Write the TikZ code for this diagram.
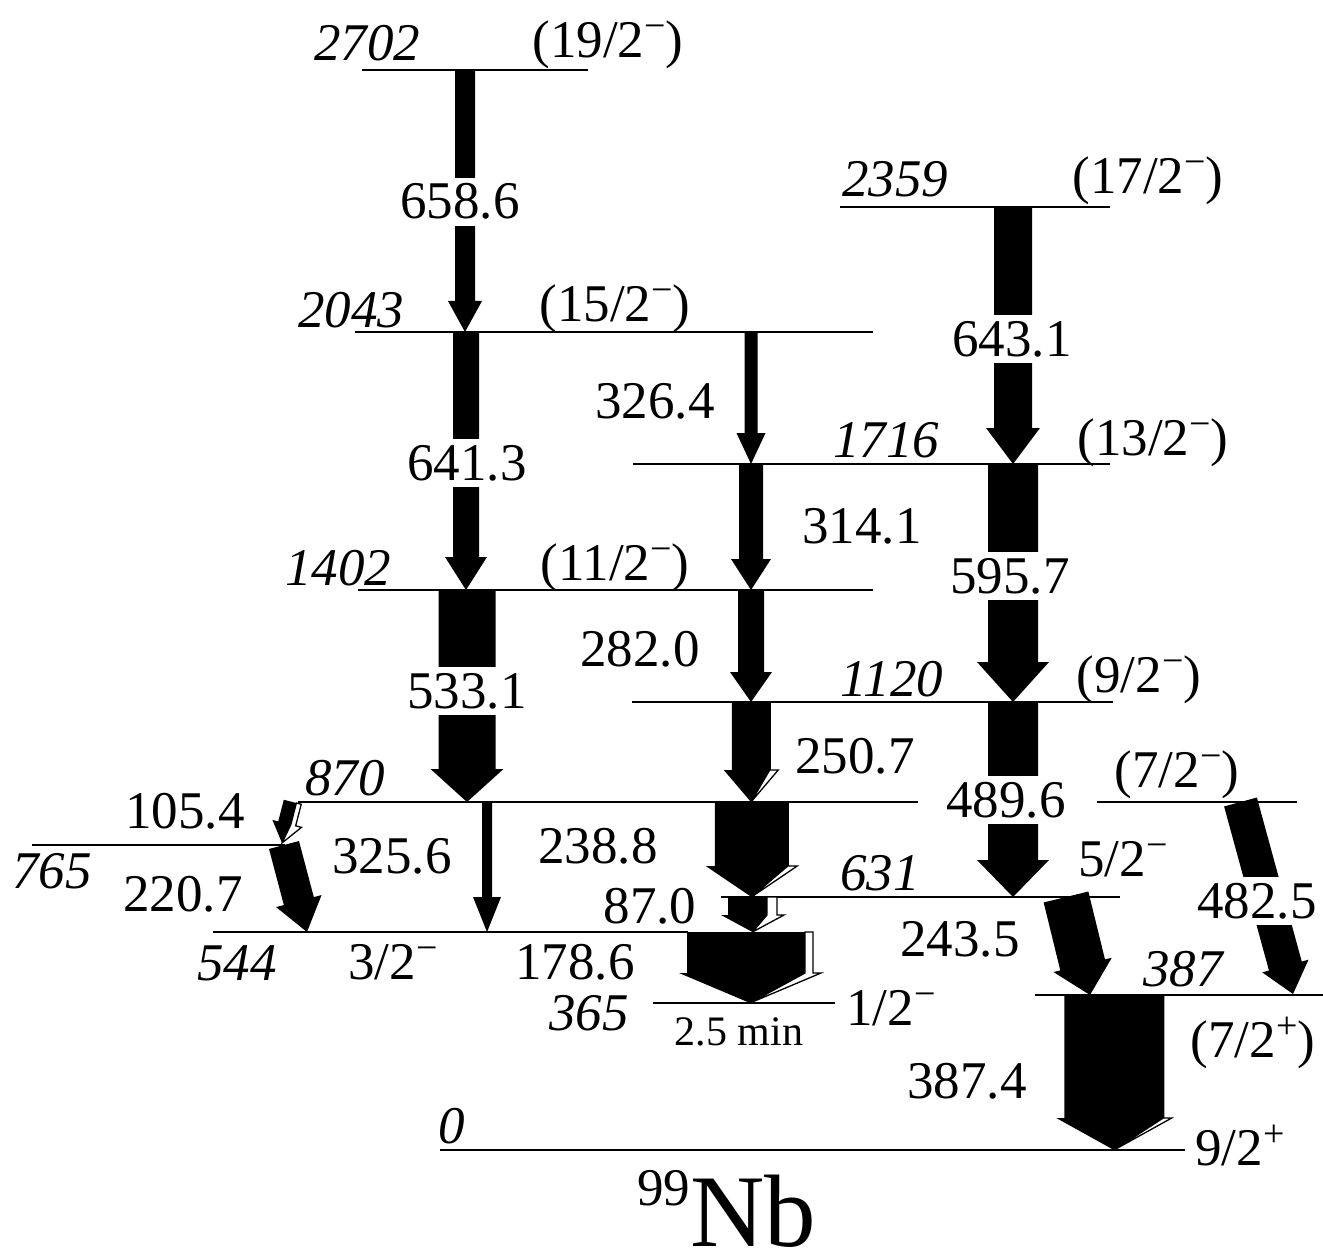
\documentclass[tikz,border=0pt]{standalone}
\usepackage{fontspec}
\setmainfont{Liberation Serif}
\usetikzlibrary{calc}
\newcommand\supx[1]{\raisebox{19pt}{\fontsize{38}{40}\selectfont #1}}
\newcommand\smi{\supx{\char"2212}}
\newcommand\spl{\supx{+}}
% gamma arrow: #1 top, #2 tip, #3 black width, #4 white width, #5 head overhang, #6 head length
\newcommand\gam[6]{%
 \coordinate (gA) at #1;
 \coordinate (gB) at #2;
 \coordinate (gH) at ($(gB)!#6pt!(gA)$);
 \pgfmathsetmacro\gamL{-(#3+#4)/2}%
 \pgfmathsetmacro\gamM{(#3-#4)/2}%
 \pgfmathsetmacro\gamR{(#3+#4)/2}%
 \pgfmathsetmacro\gamLe{\gamL-#5}%
 \pgfmathsetmacro\gamRe{\gamR+#5}%
 \ifdim #4pt>0pt
  \fill ($(gA)!\gamL pt!90:(gB)$) -- ($(gA)!\gamM pt!90:(gB)$) -- ($(gH)!\gamM pt!90:(gB)$) -- (gB) -- ($(gH)!\gamLe pt!90:(gB)$) -- ($(gH)!\gamL pt!90:(gB)$) -- cycle;
  \draw[fill=white,line width=1.3pt,line join=miter] ($(gA)!\gamM pt!90:(gB)$) -- ($(gA)!\gamR pt!90:(gB)$) -- ($(gH)!\gamR pt!90:(gB)$) -- ($(gH)!\gamRe pt!90:(gB)$) -- (gB) -- ($(gH)!\gamM pt!90:(gB)$) -- cycle;
 \else
  \fill ($(gA)!\gamL pt!90:(gB)$) -- ($(gA)!\gamR pt!90:(gB)$) -- ($(gH)!\gamR pt!90:(gB)$) -- ($(gH)!\gamRe pt!90:(gB)$) -- (gB) -- ($(gH)!\gamLe pt!90:(gB)$) -- ($(gH)!\gamL pt!90:(gB)$) -- cycle;
 \fi
}
\tikzset{
 lev/.style={line width=2pt},
 lab/.style={font=\fontsize{53}{60}\selectfont, anchor=base, inner sep=0pt},
 en/.style={lab, font=\fontsize{53}{60}\selectfont\itshape},
 cut/.style={lab, fill=white, inner xsep=3pt, inner ysep=6pt}
}
\begin{document}
\begin{tikzpicture}[x=1pt,y=-1pt]
\useasboundingbox (0,0) rectangle (1323,1257);
% levels
\draw[lev] (362,70) -- (588,70);
\draw[lev] (840,207) -- (1110,207);
\draw[lev] (355,332) -- (873,332);
\draw[lev] (633,464) -- (1110,464);
\draw[lev] (358,590) -- (873,590);
\draw[lev] (632,702) -- (1113,702);
\draw[lev] (298,802) -- (918,802);
\draw[lev] (1097,802) -- (1297,802);
\draw[lev] (32,845) -- (285,845);
\draw[lev] (721,897) -- (1120,897);
\draw[lev] (213,932) -- (688,932);
\draw[lev] (1035,995) -- (1323,995);
\draw[lev] (653,1003) -- (835,1003);
\draw[lev] (440,1150) -- (1185,1150);
% transitions
\gam{(465,70)}{(465,332)}{20}{0}{7}{31}
\gam{(466,332)}{(466,590)}{26}{0}{8}{33}
\gam{(467,590)}{(467,802)}{57}{0}{8}{33}
\gam{(751,332)}{(751,464)}{13}{0}{8}{31}
\gam{(751,464)}{(751,590)}{24}{0}{8}{31}
\gam{(751,590)}{(751,702)}{26}{0}{8}{30}
\gam{(751,702)}{(751,802)}{38}{0.5}{8}{32}
\gam{(751.5,802)}{(751.5,897)}{73}{0.5}{9}{31}
\gam{(752.5,897)}{(752.5,932)}{39}{10}{7}{17}
\gam{(750,932)}{(750,1003)}{118}{8}{8}{30}
\gam{(487,802)}{(487,932)}{10}{0}{9}{35}
\gam{(292.5,802)}{(282,843)}{13}{5}{6}{20}
\gam{(284,845)}{(307,932)}{31}{0}{8}{32}
\gam{(1013,207)}{(1013,464)}{38}{0}{8}{36}
\gam{(1013,464)}{(1013,702)}{50}{0}{11}{40}
\gam{(1013,702)}{(1013,897)}{50}{0}{11}{37}
\gam{(1066,897)}{(1090,995)}{46}{0}{7}{31}
\gam{(1240.5,802)}{(1293,994)}{34}{0}{7}{29}
\gam{(1114,995)}{(1114,1150)}{99}{0.5}{8}{32}
% level labels
\node[en] (e2702) at (367,61) {2702};
\node[lab] (j2702) at (608,58) {(19/2\smi)};
\node[en] (e2359) at (895,197) {2359};
\node[lab] (j2359) at (1148,194) {(17/2\smi)};
\node[en] (e2043) at (351,328) {2043};
\node[lab] (j2043) at (615,322) {(15/2\smi)};
\node[en] (e1716) at (886,457) {1716};
\node[lab] (j1716) at (1153,455) {(13/2\smi)};
\node[en] (e1402) at (338,585) {1402};
\node[lab] (j1402) at (615,580) {(11/2\smi)};
\node[en] (e1120) at (892,696) {1120};
\node[lab] (j1120) at (1139,692) {(9/2\smi)};
\node[en] (e870) at (345,795) {870};
\node[lab] (j870) at (1177,787) {(7/2\smi)};
\node[en] (e765) at (52,888) {765};
\node[en] (e631) at (880,890) {631};
\node[lab] (j631) at (1123,876) {5/2\smi};
\node[en] (e544) at (237,980) {544};
\node[lab] (j544) at (393,979) {3/2\smi};
\node[en] (e387) at (1183,986) {387};
\node[lab] (j387) at (1253,1057) {(7/2\spl)};
\node[en] (e365) at (589,1030) {365};
\node[lab] (j365) at (891,1025) {1/2\smi};
\node[lab, font=\fontsize{42}{48}\selectfont] (t365) at (739,1045) {2.5 min};
\node[en] (e0) at (452,1143) {0};
\node[lab] (j0) at (1240,1165) {9/2\spl};
% gamma labels
\node[cut] (g6586) at (460,219) {658.6};
\node[cut] (g6431) at (1012,356) {643.1};
\node[lab] (g3264) at (655,418) {326.4};
\node[cut] (g6413) at (467,480) {641.3};
\node[lab] (g3141) at (862,543) {314.1};
\node[cut] (g5957) at (1010,593) {595.7};
\node[lab] (g2820) at (640,666) {282.0};
\node[cut] (g5331) at (467,708) {533.1};
\node[lab] (g2507) at (855,773) {250.7};
\node[cut] (g4896) at (1006,817) {489.6};
\node[lab] (g1054) at (185,828) {105.4};
\node[lab] (g2388) at (598,863) {238.8};
\node[lab] (g3256) at (392,873) {325.6};
\node[lab] (g2207) at (183,911) {220.7};
\node[cut] (g4825) at (1257,918) {482.5};
\node[lab] (g870) at (650,923) {87.0};
\node[lab] (g2435) at (960,956) {243.5};
\node[lab] (g1786) at (575,979) {178.6};
\node[lab] (g3874) at (967,1098) {387.4};
% nucleus
\node[lab, anchor=base west] (nuc) at (637,1246) {\raisebox{41pt}{99}\fontsize{103}{110}\selectfont Nb};
\end{tikzpicture}
\end{document}
